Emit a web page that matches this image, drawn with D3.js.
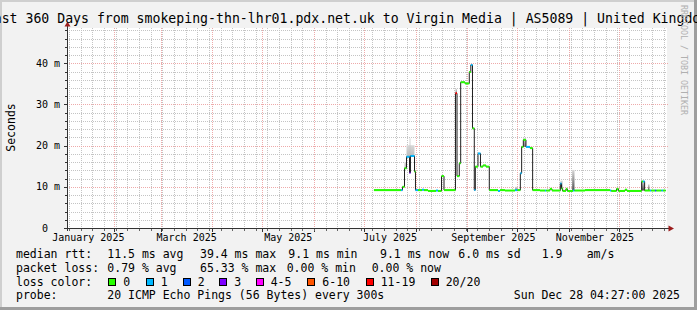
<!DOCTYPE html>
<html>
<head>
<meta charset="utf-8">
<script src="https://cdn.jsdelivr.net/npm/d3@7"></script>
<style>
  body { margin: 0; background: #f2f2f2; }
  svg { display: block; }
  text { font-family: "DejaVu Sans Mono", monospace; fill: #000; }
</style>
</head>
<body>
<div id="chart"></div>
<script>
// ---- data ----
const titleText = "Last 360 Days from smokeping-thn-lhr01.pdx.net.uk to Virgin Media | AS5089 | United Kingdom";
const yTicks = [0, 10, 20, 30, 40];
const monthLabels = ["January 2025", "March 2025", "May 2025", "July 2025", "September 2025", "November 2025"];

// median rtt steps: start time, value (ms), loss class
const medianTimes = [
  "2025-07-06T21", "2025-07-23T02", "2025-07-24T00", "2025-07-25T05", "2025-07-26T10",
  "2025-07-28T05", "2025-07-28T19", "2025-07-31T05", "2025-07-31T19", "2025-08-02T07",
  "2025-08-04T17", "2025-08-05T22", "2025-08-08T07", "2025-08-13T02", "2025-08-14T07",
  "2025-08-16T10", "2025-08-17T22", "2025-08-24T19", "2025-08-25T17", "2025-08-27T02",
  "2025-08-27T22", "2025-08-30T12", "2025-09-02T02", "2025-09-03T00", "2025-09-04T00",
  "2025-09-05T02", "2025-09-05T17", "2025-09-07T07", "2025-09-08T19", "2025-09-10T07",
  "2025-09-12T02", "2025-09-14T02", "2025-09-19T07", "2025-09-20T12", "2025-09-23T12",
  "2025-09-29T12", "2025-10-01T00", "2025-10-02T17", "2025-10-03T12", "2025-10-04T12",
  "2025-10-06T02", "2025-10-08T12", "2025-10-10T02", "2025-10-14T12", "2025-10-17T12",
  "2025-10-18T05", "2025-10-20T12", "2025-10-21T17", "2025-10-26T17", "2025-10-27T10",
  "2025-10-28T02", "2025-10-30T02", "2025-10-30T22", "2025-11-03T07", "2025-11-04T05",
  "2025-11-10T12", "2025-11-25T12", "2025-11-26T07", "2025-11-29T10", "2025-11-30T14",
  "2025-12-04T12", "2025-12-05T17", "2025-12-14T12", "2025-12-15T07", "2025-12-16T07",
  "2025-12-19T12", "2025-12-20T07", "2025-12-22T12", "2025-12-23T07", "2025-12-26T10",
  "2025-12-27T07"
];
const medianMs = [
  9.2, 9.2, 10.0, 14.5, 17.3,
  13.4, 17.5, 13.7, 9.2, 9.2,
  9.3, 9.2, 9.0, 9.1, 9.0,
  12.6, 9.2, 32.7, 12.6, 15.7,
  35.4, 35.1, 37.9, 39.6, 24.2,
  9.2, 14.9, 18.1, 14.9, 15.2,
  14.9, 9.2, 9.0, 9.2, 9.1,
  9.2, 9.2, 13.3, 19.7, 21.4,
  19.7, 19.4, 9.2, 9.1, 9.1,
  9.1, 9.5, 9.1, 10.8, 9.6,
  9.0, 9.5, 9.0, 9.1, 9.1,
  9.2, 9.1, 9.0, 9.5, 9.0,
  9.3, 9.0, 11.3, 11.3, 9.1,
  9.1, 9.1, 9.1, 9.1, 9.1,
  9.1
];
const medianLoss = [
  0, 1, 0, 0, 1,
  3, 1, 0, 1, 0,
  1, 0, 0, 1, 0,
  0, 0, 6, 0, 0,
  0, 0, 0, 1, 0,
  1, 0, 1, 0, 0,
  0, 0, 1, 0, 0,
  1, 0, 1, 0, 0,
  1, 0, 0, 0, 1,
  0, 0, 0, 1, 0,
  0, 0, 0, 1, 0,
  0, 1, 0, 0, 0,
  0, 0, 0, 1, 0,
  1, 0, 2, 0, 1,
  0
];
const medianEnd = "2025-12-28T21";

// smoke (ping spread) patches
const smokeStart = ["2025-07-25T05", "2025-07-26T10", "2025-07-28T05", "2025-08-24T19", "2025-09-29T12",
                    "2025-10-04T12", "2025-10-26T17", "2025-11-02T19", "2025-12-14T12", "2025-12-18T07"];
const smokeEnd   = ["2025-07-26T10", "2025-07-31T05", "2025-07-28T19", "2025-08-25T17", "2025-10-01T00",
                    "2025-10-06T02", "2025-10-28T02", "2025-11-04T05", "2025-12-16T07", "2025-12-19T05"];
const smokeLow   = [14.5, 17.3, 13.4, 32.7, 9.2, 19.7, 9.6, 9.1, 9.1, 9.1];
const smokeHigh  = [16.0, 20.1, 21.8, 33.8, 10.0, 21.9, 11.5, 14.1, 11.3, 10.6];
const smokeDensity = [0.25, 0.2, 0.35, 0.5, 0.5, 0.6, 0.45, 0.85, 0.9, 0.85];

const lossLabels = ["0", "1", "2", "3", "4-5", "6-10", "11-19", "20/20"];
const lossColors = ["#26ff00", "#00b8ff", "#0059ff", "#7e00ff", "#ff00ff", "#ff5500", "#ff0000", "#a10000"];

const rttStats  = ["median rtt:", "11.5 ms avg", "39.4 ms max", "9.1 ms min", "9.1 ms now", "6.0 ms sd", "1.9", "am/s"];
const lossStats = ["packet loss:", "0.79 % avg", "65.33 % max", "0.00 % min", "0.00 % now"];
const probeText = ["probe:", "20 ICMP Echo Pings (56 Bytes) every 300s"];
const stampText = "Sun Dec 28 04:27:00 2025";

// ---- layout ----
const W = 697, H = 310;
const parseT = d3.utcParse("%Y-%m-%dT%H");
const tStart = new Date(Date.UTC(2025, 0, 3, 17));
const tEnd = new Date(Date.UTC(2025, 11, 29, 17));

const x = d3.scaleUtc().domain([tStart, tEnd]).range([67, 667]);
const y = d3.scaleLinear().domain([0, 48.57]).range([228, 28]);
const px = v => Math.round(v) + 0.5;

const svg = d3.select("#chart").append("svg")
  .attr("width", W).attr("height", H);

// background + 3d frame
svg.append("rect").attr("width", W).attr("height", H).attr("fill", "#f2f2f2");
svg.append("rect").attr("x", 0).attr("y", 0).attr("width", W).attr("height", 2).attr("fill", "#cfcfcf");
svg.append("rect").attr("x", 0).attr("y", 0).attr("width", 2).attr("height", H).attr("fill", "#cfcfcf");
svg.append("rect").attr("x", 0).attr("y", H - 3).attr("width", W).attr("height", 3).attr("fill", "#9e9e9e");
svg.append("rect").attr("x", W - 3).attr("y", 0).attr("width", 3).attr("height", H).attr("fill", "#9e9e9e");

// canvas
svg.append("rect").attr("x", 67).attr("y", 28).attr("width", 600).attr("height", 200).attr("fill", "#fff");

// grid
const grid = svg.append("g").attr("shape-rendering", "crispEdges");
const minorY = d3.range(2, 48.6, 2).filter(v => v % 10 !== 0);
const majorY = d3.range(10, 48.6, 10);
const weeks = d3.utcSunday.range(tStart, tEnd);
const months = d3.utcMonth.range(tStart, tEnd);

grid.selectAll(".mny").data(minorY).enter().append("line")
  .attr("x1", 67).attr("x2", 667)
  .attr("y1", d => px(y(d))).attr("y2", d => px(y(d)))
  .attr("stroke", "#c4c4c4").attr("stroke-dasharray", "1,1");
grid.selectAll(".mnx").data(weeks).enter().append("line")
  .attr("x1", d => px(x(d))).attr("x2", d => px(x(d)))
  .attr("y1", 28).attr("y2", 228)
  .attr("stroke", "#c4c4c4").attr("stroke-dasharray", "1,1");
grid.selectAll(".mjy").data(majorY).enter().append("line")
  .attr("x1", 67).attr("x2", 669)
  .attr("y1", d => px(y(d))).attr("y2", d => px(y(d)))
  .attr("stroke", "#eeaaaa").attr("stroke-dasharray", "1,1");
grid.selectAll(".mjx").data(months).enter().append("line")
  .attr("x1", d => px(x(d))).attr("x2", d => px(x(d)))
  .attr("y1", 28).attr("y2", 228)
  .attr("stroke", "#eeaaaa").attr("stroke-dasharray", "1,1");

// smoke
const defs = svg.append("defs");
const plot = svg.append("g");
smokeStart.forEach((s, i) => {
  const dark = d3.interpolateRgb("#dcdcdc", "#383838")(smokeDensity[i]);
  const gid = "smk" + i;
  const g = defs.append("linearGradient").attr("id", gid)
    .attr("x1", 0).attr("y1", 1).attr("x2", 0).attr("y2", 0);
  g.append("stop").attr("offset", 0).attr("stop-color", dark);
  g.append("stop").attr("offset", 1).attr("stop-color", "#d8d8d8");
  const x0 = x(parseT(s)), x1 = x(parseT(smokeEnd[i]));
  plot.append("rect")
    .attr("x", x0).attr("width", Math.max(1, x1 - x0))
    .attr("y", y(smokeHigh[i])).attr("height", y(smokeLow[i]) - y(smokeHigh[i]))
    .attr("fill", `url(#${gid})`);
});

// median step line
const pts = medianTimes.map((t, i) => [parseT(t), medianMs[i], medianLoss[i]]);
pts.push([parseT(medianEnd), medianMs[medianMs.length - 1], medianLoss[medianLoss.length - 1]]);

const stepLine = d3.line()
  .x(d => x(d[0]))
  .y(d => y(d[1]))
  .curve(d3.curveStepAfter);

plot.append("path")
  .datum(pts)
  .attr("d", stepLine)
  .attr("fill", "none")
  .attr("stroke", "#202020")
  .attr("stroke-width", 1);

plot.selectAll(".seg").data(pts.slice(0, -1)).enter().append("line")
  .attr("x1", d => x(d[0]))
  .attr("x2", (d, i) => x(pts[i + 1][0]))
  .attr("y1", d => y(d[1]))
  .attr("y2", d => y(d[1]))
  .attr("stroke", d => lossColors[d[2]])
  .attr("stroke-width", 2);

// axes
const axes = svg.append("g").attr("shape-rendering", "crispEdges");
axes.append("line").attr("x1", 67.5).attr("x2", 67.5).attr("y1", 25).attr("y2", 231).attr("stroke", "#333");
axes.append("line").attr("x1", 64).attr("x2", 670).attr("y1", 228.5).attr("y2", 228.5).attr("stroke", "#333");
axes.selectAll(".ty").data(d3.range(2, 48.6, 2)).enter().append("line")
  .attr("x1", d => d % 10 === 0 ? 64 : 65).attr("x2", 67)
  .attr("y1", d => px(y(d))).attr("y2", d => px(y(d)))
  .attr("stroke", "#333");
axes.selectAll(".tx").data(months).enter().append("line")
  .attr("x1", d => px(x(d))).attr("x2", d => px(x(d)))
  .attr("y1", 229).attr("y2", 232)
  .attr("stroke", "#333");
axes.selectAll(".twx").data(weeks).enter().append("line")
  .attr("x1", d => px(x(d))).attr("x2", d => px(x(d)))
  .attr("y1", 229).attr("y2", 231)
  .attr("stroke", "#666");

svg.append("path").attr("d", "M64.5,26.5L70.5,26.5L67.5,21.5Z").attr("fill", "#9b1c1c");
svg.append("path").attr("d", "M668.5,225.5L668.5,231.5L674,228.5Z").attr("fill", "#9b1c1c");

// y labels
svg.selectAll(".yl").data(yTicks).enter().append("text")
  .attr("x", 60).attr("y", d => y(d) + 3.5)
  .attr("text-anchor", "end")
  .attr("xml:space", "preserve")
  .style("white-space", "pre")
  .style("font-size", "10px")
  .text(d => d === 0 ? "0  " : d + " m");

svg.append("text")
  .attr("transform", "translate(14.5,127.5) rotate(-90)")
  .attr("text-anchor", "middle")
  .style("font-size", "11.5px")
  .text("Seconds");

// x labels (centred on mid-month)
const labelMonths = d3.utcMonth.every(2).range(new Date(Date.UTC(2025, 0, 1)), tEnd);
svg.selectAll(".xl").data(labelMonths).enter().append("text")
  .attr("x", d => x(d3.utcHour.offset(d3.utcDay.offset(d, 15), 12)))
  .attr("y", 241)
  .attr("text-anchor", "middle")
  .style("font-size", "10px")
  .text((d, i) => monthLabels[i]);

// title (wider than the image, clipped at both sides as in the original)
svg.append("text")
  .attr("x", 347).attr("y", 23)
  .attr("text-anchor", "middle")
  .style("font-size", "13.2px")
  .text(titleText);

// watermark
svg.append("text")
  .attr("transform", "translate(681,5) rotate(90)")
  .style("font-size", "8.3px")
  .style("fill", "#b0b0b0")
  .text("RRDTOOL / TOBI OETIKER");

// legend
const legY = [258.3, 272, 285.7, 299.3];
const lfs = "11.5px";
const rttX = [16, 107.3, 200, 288.3, 380, 458.3, 541.7, 586.7];
const lossX = [16, 107.3, 200, 286.7, 371.7];
rttStats.forEach((t, i) => svg.append("text").attr("x", rttX[i]).attr("y", legY[0]).style("font-size", lfs).text(t));
lossStats.forEach((t, i) => svg.append("text").attr("x", lossX[i]).attr("y", legY[1]).style("font-size", lfs).text(t));

svg.append("text").attr("x", 16).attr("y", legY[2]).style("font-size", lfs).text("loss color:");
const boxX = [108.3, 145.7, 182.7, 219.3, 255.7, 307.3, 365.7, 430.7];
lossLabels.forEach((l, i) => {
  svg.append("rect")
    .attr("x", Math.round(boxX[i]) + 0.5).attr("y", 278.5)
    .attr("width", 7).attr("height", 7)
    .attr("fill", lossColors[i]).attr("stroke", "#000")
    .attr("shape-rendering", "crispEdges");
  svg.append("text").attr("x", boxX[i] + 15).attr("y", legY[2]).style("font-size", lfs).text(l);
});

svg.append("text").attr("x", 16).attr("y", legY[3]).style("font-size", lfs).text(probeText[0]);
svg.append("text").attr("x", 107.3).attr("y", legY[3]).style("font-size", lfs).text(probeText[1]);
svg.append("text").attr("x", 680).attr("y", legY[3]).attr("text-anchor", "end").style("font-size", lfs).text(stampText);
</script>
</body>
</html>
